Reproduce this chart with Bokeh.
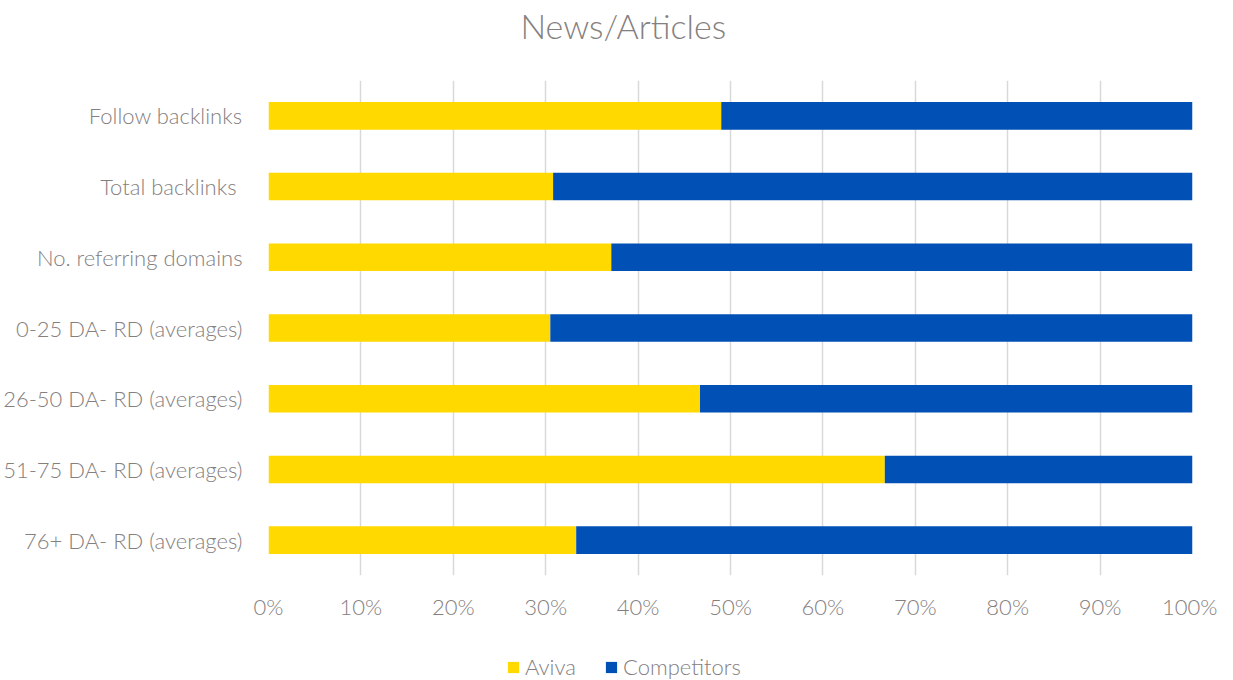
from bokeh.plotting import figure
from bokeh.layouts import column
from bokeh.models import (ColumnDataSource, FactorRange, Range1d, FixedTicker,
                          NumeralTickFormatter, Legend, LegendItem, Label)
from bokeh.embed import file_html
from bokeh.resources import INLINE

categories = ["Follow backlinks", "Total backlinks ", "No. referring domains",
              "0-25 DA- RD (averages)", "26-50 DA- RD (averages)",
              "51-75 DA- RD (averages)", "76+ DA- RD (averages)"]
aviva = [0.490, 0.308, 0.371, 0.305, 0.467, 0.667, 0.333]
competitors = [0.510, 0.692, 0.629, 0.695, 0.533, 0.333, 0.667]
series = ["Aviva", "Competitors"]
colors = ["#FFD900", "#0050B5"]
x_ticks = [0, 0.1, 0.2, 0.3, 0.4, 0.5, 0.6, 0.7, 0.8, 0.9, 1.0]
title_text = "News/Articles"

FONT = "Lato Light, Lato"
GREY = "#858080"
W, LEFT, RIGHT = 1217, 268, 25

source = ColumnDataSource(dict(cat=categories, Aviva=aviva, Competitors=competitors))


def strip(height):
    f = figure(width=W, height=height, output_backend="svg", toolbar_location=None,
               x_range=Range1d(0, 1), y_range=Range1d(0, height),
               min_border_left=LEFT, min_border_right=RIGHT,
               min_border_top=0, min_border_bottom=0)
    f.axis.visible = False
    f.grid.visible = False
    f.outline_line_color = None
    return f


# title strip
top = strip(80)
top.add_layout(Label(x=0.384, y=55, text=title_text, text_align="center",
                     text_baseline="middle", text_font=FONT,
                     text_font_size="34px", text_color=GREY))

# main chart
p = figure(width=W, height=542, output_backend="svg", toolbar_location=None,
           y_range=FactorRange(factors=list(reversed(categories))),
           x_range=Range1d(0, 1),
           min_border_left=LEFT, min_border_right=RIGHT, min_border_top=0,
           min_border_bottom=42)
p.hbar_stack(series, y="cat", height=0.39, color=colors,
             line_color=None, source=source)

p.outline_line_color = None
p.ygrid.grid_line_color = None
p.xgrid.grid_line_color = "#D9D9D9"
p.xgrid.grid_line_width = 1.5
p.xaxis.ticker = FixedTicker(ticks=x_ticks)
p.xaxis.formatter = NumeralTickFormatter(format="0%")
for ax in (p.xaxis, p.yaxis):
    ax.axis_line_color = None
    ax.major_tick_line_color = None
    ax.minor_tick_line_color = None
    ax.major_label_text_font = FONT
    ax.major_label_text_font_size = "22px"
    ax.major_label_text_color = GREY
p.xaxis.major_label_standoff = 11
p.yaxis.major_label_standoff = 20

# legend strip (its bars use factors outside this strip's range, so only the legend shows)
lg = figure(width=W, height=58, output_backend="svg", toolbar_location=None,
            x_range=Range1d(0, 1), y_range=FactorRange(factors=["-"]),
            min_border_left=LEFT, min_border_right=RIGHT,
            min_border_top=0, min_border_bottom=0)
lg.axis.visible = False
lg.grid.visible = False
lg.outline_line_color = None
leg_renderers = lg.hbar_stack(series, y="cat", height=0.39, color=colors,
                              line_color=None, source=source)
legend = Legend(items=[LegendItem(label=s, renderers=[r]) for s, r in zip(series, leg_renderers)],
                orientation="horizontal", location=(238, 0),
                label_text_font=FONT, label_text_font_size="22px",
                label_text_color=GREY, glyph_width=14, glyph_height=14,
                spacing=28, label_standoff=5, border_line_color=None,
                background_fill_alpha=0, padding=4, margin=0)
lg.add_layout(legend)

layout = column(top, p, lg, spacing=0)
open("out.html", "w").write(file_html(layout, INLINE))
